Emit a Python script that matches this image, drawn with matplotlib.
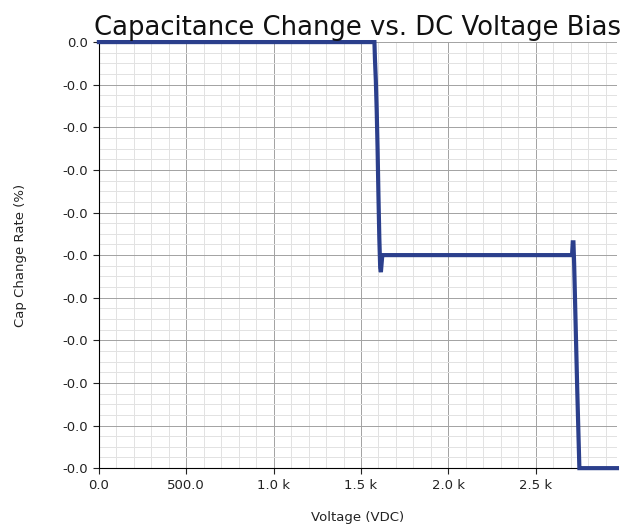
import matplotlib
matplotlib.use("Agg")
import matplotlib.pyplot as plt
from matplotlib.ticker import MultipleLocator, FuncFormatter, FormatStrFormatter

voltage = [0, 1577, 1580, 1585, 1590, 1595, 1600, 1605, 1610, 1614, 1618, 1622, 1628, 1650,
           2700, 2708, 2712, 2716, 2720, 2726, 2732, 2738, 2744, 2750, 2755, 2965]
cap_change = [0.0, 0.0, -0.0004, -0.0009, -0.0016, -0.0025, -0.0036, -0.0046, -0.0053, -0.0054,
              -0.0052, -0.0050, -0.0050, -0.0050,
              -0.0050, -0.0050, -0.0047, -0.0047, -0.0052, -0.0062, -0.0072, -0.0082, -0.0091,
              -0.0100, -0.0100, -0.0100]

fig = plt.figure(figsize=(6.38, 5.26), dpi=100)
ax = fig.add_axes([0.155, 0.110, 0.812, 0.810])

ax.plot(voltage, cap_change, color="#2b3f8c", lw=3.0, solid_joinstyle="miter", zorder=3, clip_on=False)

ax.set_xlim(0, 2965)
ax.set_ylim(-0.0100, 0.0)
ax.xaxis.set_major_locator(MultipleLocator(500))
ax.xaxis.set_minor_locator(MultipleLocator(100))
ax.yaxis.set_major_locator(MultipleLocator(0.001))
ax.yaxis.set_minor_locator(MultipleLocator(0.00025))

def kfmt(v, pos):
    if abs(v) >= 1000:
        return f"{v/1000:.1f} k"
    return f"{v:.1f}"
ax.xaxis.set_major_formatter(FuncFormatter(kfmt))
ax.yaxis.set_major_formatter(FormatStrFormatter("%.1f"))

ax.grid(which="major", color="#a2a2a2", lw=0.7)
ax.grid(which="minor", color="#e2e2e2", lw=0.7)
ax.set_axisbelow(True)
for s in ("top", "right"):
    ax.spines[s].set_visible(False)
ax.tick_params(which="minor", length=0)
ax.tick_params(which="major", labelsize=9.5, colors="#222222", length=4)

ax.set_xlabel("Voltage (VDC)", fontsize=9.5, labelpad=14, color="#222222")
ax.set_ylabel("Cap Change Rate (%)", fontsize=9.5, labelpad=26, color="#222222")
ax.set_title("Capacitance Change vs. DC Voltage Bias", fontsize=18.6, pad=5, color="#111111")

fig.savefig("out.png", dpi=100)
